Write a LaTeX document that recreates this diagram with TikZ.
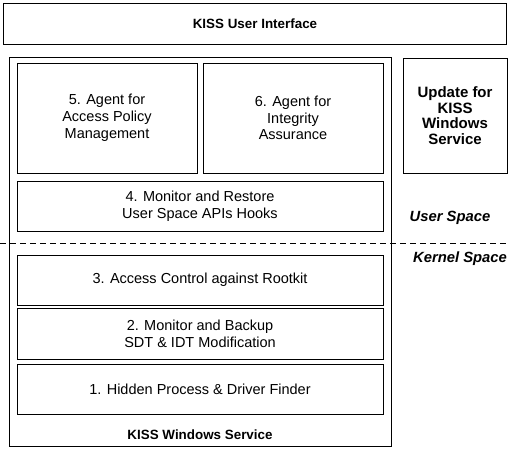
\documentclass[tikz,border=0pt]{standalone}
\usepackage{fontspec}
\setmainfont{Liberation Sans}
\usepackage{tikz}

\tikzset{
  blk/.style={draw, line width=0.7pt, align=center, inner sep=0pt,
    font=\fontsize{14.5}{16.8}\selectfont},
  hdr/.style={font=\fontsize{13.4}{16}\selectfont\bfseries, align=center},
  spc/.style={font=\fontsize{14.8}{16}\selectfont\bfseries\itshape}
}

\begin{document}
\begin{tikzpicture}[x=1pt,y=-1pt]
	\useasboundingbox (0,0) rectangle (510,448);
	% top
	\node[blk, minimum width=503pt, minimum height=41pt, font=\fontsize{13.4}{16}\selectfont\bfseries] (ui) at (255,24) {KISS User Interface};
	% windows service frame
	\node[blk, minimum width=382pt, minimum height=389pt] (svc) at (200,251.5) {};
	\node[hdr] (svclbl) at (200,435) {KISS Windows Service};
	\node[blk, minimum width=180pt, minimum height=110pt] (a5) at (107,118) {5. Agent for\\Access Policy\\Management};
	\node[blk, minimum width=180pt, minimum height=110pt] (a6) at (293,118) {6. Agent for\\Integrity\\Assurance};
	\node[blk, minimum width=366pt, minimum height=50pt] (m4) at (200,206) {4. Monitor and Restore\\User Space APIs Hooks};
	\node[blk, minimum width=366pt, minimum height=50pt] (ac3) at (200,280) {3. Access Control against Rootkit};
	\node[blk, minimum width=366pt, minimum height=51pt] (mb2) at (200,333.5) {2. Monitor and Backup\\SDT \& IDT Modification};
	\node[blk, minimum width=366pt, minimum height=50pt] (hp1) at (200,389) {1. Hidden Process \& Driver Finder};
	% update
	\node[blk, minimum width=104pt, minimum height=115pt, font=\fontsize{15}{15.5}\selectfont\bfseries] (upd) at (455,115.5) {Update for\\KISS\\Windows\\Service};
	% user / kernel split
	\coordinate (sl) at (0,243);
	\coordinate (sr) at (510,243);
	\draw[dashed, line width=0.9pt, dash pattern=on 6pt off 4pt] (sl) -- (sr);
	\node[spc] (usr) at (450,218) {User Space};
	\node[spc] (krn) at (460,259) {Kernel Space};
\end{tikzpicture}
\end{document}
